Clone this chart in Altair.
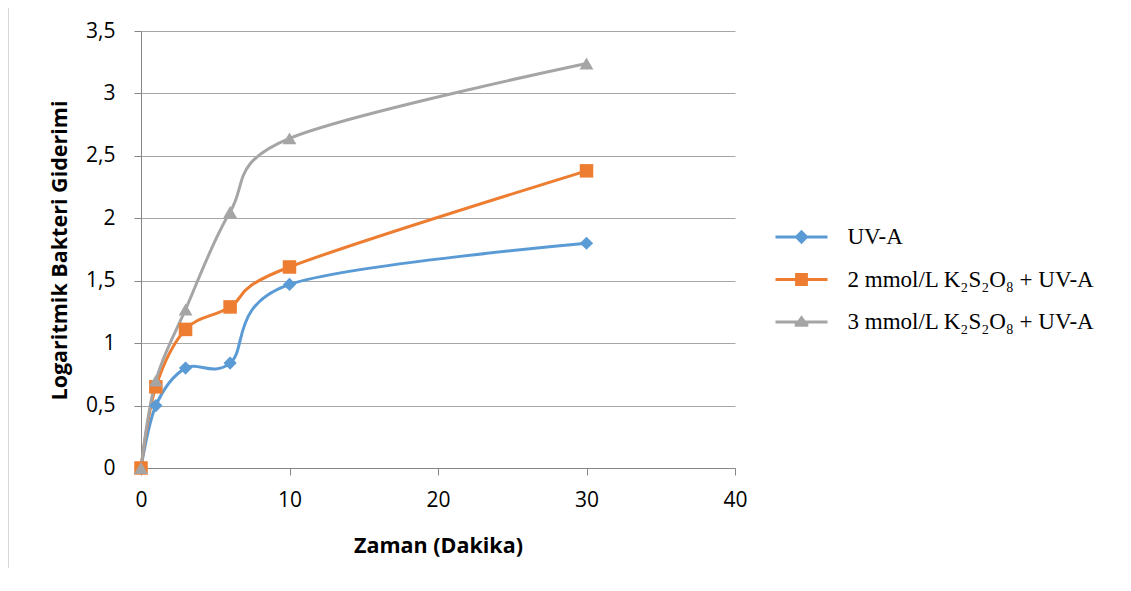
import altair as alt
import pandas as pd

times = [0, 1, 3, 6, 10, 30]
series_names = ["UV-A", "2 mmol/L K₂S₂O₈ + UV-A", "3 mmol/L K₂S₂O₈ + UV-A"]
uva = [0.0, 0.50, 0.80, 0.84, 1.47, 1.80]
k2_2 = [0.0, 0.65, 1.11, 1.29, 1.61, 2.38]
k2_3 = [0.0, 0.70, 1.27, 2.05, 2.64, 3.24]
colors = ["#5B9BD5", "#ED7D31", "#A5A5A5"]
y_ticks = [0, 0.5, 1, 1.5, 2, 2.5, 3, 3.5]
x_ticks = [0, 10, 20, 30, 40]

rows = []
for name, vals in zip(series_names, [uva, k2_2, k2_3]):
    for i, (t, v) in enumerate(zip(times, vals)):
        rows.append({"t": t, "v": v, "s": name, "o": i})
df = pd.DataFrame(rows)

color_scale = alt.Scale(domain=series_names, range=colors)

# legend symbols: line + marker (custom paths)
diamond_line = ("M-1.3,-0.08 L-0.28,-0.08 L0,-0.36 L0.28,-0.08 L1.3,-0.08 L1.3,0.08 "
                "L0.28,0.08 L0,0.36 L-0.28,0.08 L-1.3,0.08 Z")
square_line = ("M-1.3,-0.08 L-0.32,-0.08 L-0.32,-0.32 L0.32,-0.32 L0.32,-0.08 L1.3,-0.08 "
               "L1.3,0.08 L0.32,0.08 L0.32,0.32 L-0.32,0.32 L-0.32,0.08 L-1.3,0.08 Z")
tri_line = ("M-1.3,-0.08 L-0.19,-0.08 L0,-0.34 L0.19,-0.08 L1.3,-0.08 L1.3,0.08 "
            "L0.34,0.08 L0.34,0.24 L-0.34,0.24 L-0.34,0.08 L-1.3,0.08 Z")

x_enc = alt.X("t:Q", scale=alt.Scale(domain=[0, 40], nice=False),
              axis=alt.Axis(values=x_ticks, title="Zaman (Dakika)", grid=False,
                            tickSize=7, labelPadding=14, titleY=78,
                            labelFlush=False, titleBaseline="middle"))
y_enc = alt.Y("v:Q", scale=alt.Scale(domain=[0, 3.5], nice=False),
              axis=alt.Axis(values=y_ticks, title="Logaritmik Bakteri Giderimi",
                            grid=True, tickSize=7, labelPadding=19,
                            format=".1~f", labelFlush=False,
                            labelExpr="replace(datum.label, '.', ',')",
                            titleX=-81, titleY=219, titleBaseline="middle",
                            titleAngle=-90, titleAlign="center"))

base = alt.Chart(df)

lines = base.mark_line(interpolate="cardinal", strokeWidth=3).encode(
    x=x_enc, y=y_enc,
    color=alt.Color("s:N", scale=color_scale, legend=None),
    detail="s:N", order="o:Q",
)

points = base.mark_point(filled=True, opacity=1).encode(
    x="t:Q", y="v:Q",
    color=alt.Color("s:N", scale=color_scale, legend=None),
    shape=alt.Shape("s:N", scale=alt.Scale(domain=series_names,
                                           range=["diamond", "square", "triangle-up"]),
                    legend=None),
    size=alt.Size("s:N", scale=alt.Scale(domain=series_names, range=[175, 190, 250]),
                  legend=None),
)

leg = alt.Legend(title=None, orient="none", legendX=640.5, legendY=186,
                 symbolSize=1600, symbolStrokeWidth=0, labelOffset=26,
                 rowPadding=10.5, padding=0,
                 labelFont="Liberation Serif", labelFontSize=23,
                 labelColor="#000000", labelLimit=400)

legend_layer = base.transform_filter("datum.t > 1000").mark_point(
    filled=True, opacity=1).encode(
    x="t:Q", y="v:Q",
    color=alt.Color("s:N", scale=color_scale, legend=leg),
    shape=alt.Shape("s:N", scale=alt.Scale(domain=series_names,
                                           range=[diamond_line, square_line, tri_line]),
                    legend=leg),
)

border = alt.Chart(pd.DataFrame({"a": [0]})).mark_rule(color="#D9D9D9", strokeWidth=1).encode(
    x=alt.value(-132.5), y=alt.value(-30), y2=alt.value(560)
)

chart = alt.layer(lines, points, legend_layer, border).resolve_scale(
    color="independent", shape="independent", size="independent"
).properties(
    width=594, height=437,
    autosize=alt.AutoSizeParams(type="none"),
    padding={"left": 133, "top": 23, "right": 380, "bottom": 100},
).configure_view(stroke=None).configure_axis(
    labelFont="Open Sans", labelFontSize=21, labelColor="#000000",
    titleFont="Open Sans", titleFontSize=21.5, titleFontWeight="bold", titleColor="#000000",
    domainColor="#868686", tickColor="#868686", gridColor="#A6A6A6",
    domainWidth=1, tickWidth=1, gridWidth=1,
)

chart.save("out.html", embed_options={"renderer": "svg", "actions": False})
